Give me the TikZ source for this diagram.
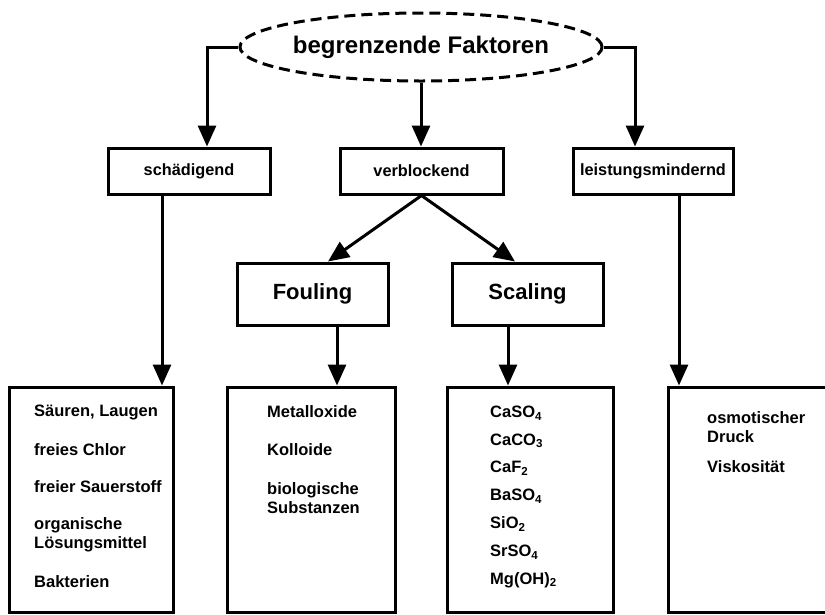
\documentclass[tikz,border=0pt]{standalone}
\usepackage{fontspec}
\setmainfont{Liberation Sans}
\usetikzlibrary{shapes.geometric,arrows.meta}
\tikzset{
  ln/.style={line width=3pt},
  arr/.style={ln,-{Triangle[length=21pt,width=18pt]}},
  ellbox/.style={ellipse,draw,ln,dash pattern=on 11pt off 6pt,minimum width=342pt,minimum height=68pt,inner sep=0pt,font=\bfseries\fontsize{24}{28}\selectfont},
  midbox/.style={rectangle,draw,ln,inner sep=0pt,minimum height=46pt,font=\bfseries\fontsize{16.3}{19}\selectfont},
  bigbox/.style={rectangle,draw,ln,inner sep=0pt,minimum height=62pt,minimum width=151pt,font=\bfseries\fontsize{22}{26}\selectfont},
  listbox/.style={rectangle,draw,ln,inner sep=0pt,minimum height=225pt},
  item/.style={anchor=west,inner sep=0pt,align=left,font=\bfseries\fontsize{16.5}{19.5}\selectfont}
}
\begin{document}
\begin{tikzpicture}[x=1pt,y=-1pt]
\clip (0,0) rectangle (825,614);
\fill[white] (0,0) rectangle (825,614);
% top ellipse
\node[ellbox] (top) at (421,47) {begrenzende Faktoren};
% second row
\node[midbox,minimum width=162pt] (sch) at (189,171) {schädigend};
\node[midbox,minimum width=163pt] (verb) at (421.5,171) {verblockend};
\node[midbox,minimum width=160pt] (lei) at (653,171) {leistungsmindernd};
% third row
\node[bigbox] (foul) at (312.5,294) {Fouling};
\node[bigbox] (scal) at (527.5,294) {Scaling};
% list boxes
\node[listbox,minimum width=164pt] (b1) at (91,499.5) {};
\node[listbox,minimum width=168pt] (b2) at (311,499.5) {};
\node[listbox,minimum width=166pt] (b3) at (530,499.5) {};
\node[listbox,minimum width=172pt] (b4) at (754,499.5) {};
% connector coordinates
\coordinate (lc) at (207,47);
\coordinate (rc) at (635,47);
\coordinate (fx) at (328,0);
\coordinate (sx) at (515,0);
\coordinate (x1) at (162,0);
\coordinate (x2) at (337,0);
\coordinate (x3) at (508,0);
\coordinate (x4) at (679,0);
% connectors
\draw[arr] (top.west) -- (lc) -- (lc |- sch.north);
\draw[arr] (top.east) -- (rc) -- (rc |- lei.north);
\draw[arr] (top.south) -- (top.south |- verb.north);
\draw[arr] (verb.south) -- (fx |- foul.north);
\draw[arr] (verb.south) -- (sx |- scal.north);
\draw[arr] (x1 |- sch.south) -- (x1 |- b1.north);
\draw[arr] (x2 |- foul.south) -- (x2 |- b2.north);
\draw[arr] (x3 |- scal.south) -- (x3 |- b3.north);
\draw[arr] (x4 |- lei.south) -- (x4 |- b4.north);
% box 1 items
\node[item] (a1) at (34,412) {Säuren, Laugen};
\node[item] (a2) at (34,450) {freies Chlor};
\node[item] (a3) at (34,487) {freier Sauerstoff};
\node[item] (a4) at (34,535) {organische\\Lösungsmittel};
\node[item] (a5) at (34,582) {Bakterien};
% box 2 items
\node[item] (c1) at (267,412) {Metalloxide};
\node[item] (c2) at (267,450) {Kolloide};
\node[item] (c3) at (267,498) {biologische\\Substanzen};
% box 3 items
\node[item] (d1) at (490,413) {CaSO\textsubscript{4}};
\node[item] (d2) at (490,441) {CaCO\textsubscript{3}};
\node[item] (d3) at (490,468) {CaF\textsubscript{2}};
\node[item] (d4) at (490,496) {BaSO\textsubscript{4}};
\node[item] (d5) at (490,524) {SiO\textsubscript{2}};
\node[item] (d6) at (490,552) {SrSO\textsubscript{4}};
\node[item] (d7) at (490,580) {Mg(OH)\textsubscript{2}};
% box 4 items
\node[item] (e1) at (707,427) {osmotischer\\Druck};
\node[item] (e2) at (707,467) {Viskosität};
\end{tikzpicture}
\end{document}
